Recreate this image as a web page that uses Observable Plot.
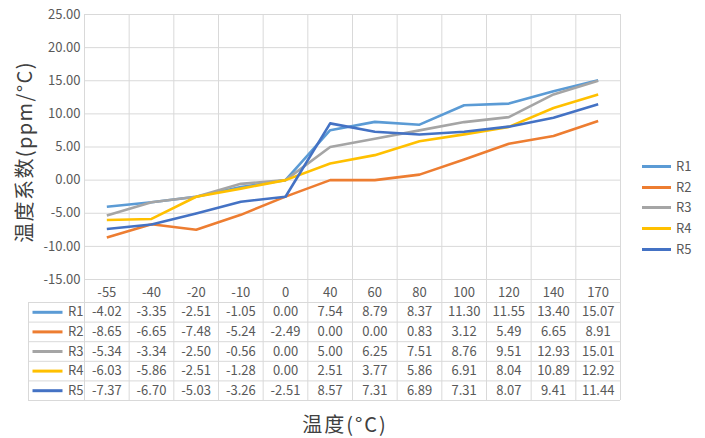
<!DOCTYPE html>
<html>
<head>
<meta charset="utf-8">
<script src="https://cdn.jsdelivr.net/npm/d3@7"></script>
<script src="https://cdn.jsdelivr.net/npm/@observablehq/plot@0.6"></script>
<style>
  html, body { margin: 0; padding: 0; background: #ffffff; }
  #wrap { position: relative; width: 705px; height: 438px; overflow: hidden; font-family: "Noto Sans CJK SC", "Noto Sans", sans-serif; }
  #wrap svg { position: absolute; left: 0; }
  .legend { position: absolute; left: 642px; font-size: 13px; color: #595959; }
  .legend .item { position: absolute; left: 0; width: 60px; height: 16px; line-height: 16px; white-space: nowrap; }
  .legend .sw { position: absolute; left: 0; top: 7px; width: 29px; height: 3px; }
  .legend .lb { position: absolute; left: 34px; top: 0; }
  .title { position: absolute; font-size: 20px; line-height: 22px; color: #404040; white-space: nowrap; }
</style>
</head>
<body>
<div id="wrap"></div>
<script>
const categories = ["-55", "-40", "-20", "-10", "0", "40", "60", "80", "100", "120", "140", "170"];
const seriesNames = ["R1", "R2", "R3", "R4", "R5"];
const R1 = [-4.02, -3.35, -2.51, -1.05, 0.00, 7.54, 8.79, 8.37, 11.30, 11.55, 13.40, 15.07];
const R2 = [-8.65, -6.65, -7.48, -5.24, -2.49, 0.00, 0.00, 0.83, 3.12, 5.49, 6.65, 8.91];
const R3 = [-5.34, -3.34, -2.50, -0.56, 0.00, 5.00, 6.25, 7.51, 8.76, 9.51, 12.93, 15.01];
const R4 = [-6.03, -5.86, -2.51, -1.28, 0.00, 2.51, 3.77, 5.86, 6.91, 8.04, 10.89, 12.92];
const R5 = [-7.37, -6.70, -5.03, -3.26, -2.51, 8.57, 7.31, 6.89, 7.31, 8.07, 9.41, 11.44];
const yTicks = [-15, -10, -5, 0, 5, 10, 15, 20, 25];
const colors = ["#5b9bd5", "#ed7d31", "#a5a5a5", "#ffc000", "#4472c4"];
const yTitle = "温度系数(ppm/°C)";
const xTitle = "温度(°C)";

const seriesValues = [R1, R2, R3, R4, R5];
const rows = [];
seriesValues.forEach((vals, s) => vals.forEach((v, i) => rows.push({series: seriesNames[s], row: s, i, value: v})));
const idx = categories.map((_, i) => i);
const colEdges = d3.range(-0.5, categories.length, 1);
const rowEdges = d3.range(-0.5, seriesNames.length, 1);
const font = "'Noto Sans CJK SC', 'Noto Sans', sans-serif";
const grid = "#d9d9d9";
const textColor = "#595959";

const wrap = document.getElementById("wrap");

const chart = Plot.plot({
  width: 705,
  height: 302,
  marginTop: 14,
  marginBottom: 23,
  marginLeft: 84,
  marginRight: 85,
  style: {fontFamily: font, fontSize: "13px", color: textColor, background: "transparent"},
  x: {type: "linear", domain: [-0.5, categories.length - 0.5], ticks: idx, tickFormat: i => categories[i], tickSize: 0, tickPadding: 8, label: null},
  y: {domain: [-15, 25], ticks: yTicks, tickFormat: d => d.toFixed(2), tickSize: 0, tickPadding: 4, label: null},
  color: {domain: seriesNames, range: colors},
  marks: [
    Plot.ruleY(yTicks, {stroke: grid, strokeWidth: 1, strokeOpacity: 1}),
    Plot.ruleX(colEdges, {stroke: grid, strokeWidth: 1, strokeOpacity: 1, insetBottom: -23}),
    Plot.line(rows, {x: "i", y: "value", z: "series", stroke: "series", strokeWidth: 2.6, strokeLinejoin: "round", strokeLinecap: "butt"})
  ]
});
chart.style.top = "0px";
wrap.appendChild(chart);

const lineSymbol = {draw(context) { context.rect(-15, -1.5, 30, 3); }};

const table = Plot.plot({
  width: 705,
  height: 100,
  marginTop: 1,
  marginBottom: 1,
  marginLeft: 84,
  marginRight: 85,
  style: {fontFamily: font, fontSize: "13px", color: textColor, background: "transparent"},
  x: {type: "linear", domain: [-0.5, categories.length - 0.5], axis: null},
  y: {type: "linear", domain: [-0.5, seriesNames.length - 0.5], reverse: true, axis: null},
  color: {domain: seriesNames, range: colors},
  marks: [
    Plot.ruleY(rowEdges, {stroke: grid, strokeWidth: 1, insetLeft: -56}),
    Plot.ruleX(colEdges, {stroke: grid, strokeWidth: 1}),
    Plot.ruleX([colEdges[0]], {stroke: grid, strokeWidth: 1, dx: -56}),
    Plot.text(rows, {x: "i", y: "row", text: d => d.value.toFixed(2), fill: textColor, fontSize: 13}),
    Plot.text(seriesNames, {x: () => colEdges[0], y: (d, i) => i, text: d => d, textAnchor: "end", dx: -1, fill: textColor, fontSize: 13}),
    Plot.dot(seriesNames, {x: () => colEdges[0], y: (d, i) => i, dx: -37, symbol: lineSymbol, fill: d => d, stroke: null, r: 3})
  ]
});
table.style.top = "301px";
wrap.appendChild(table);

// Right-hand legend
const legend = document.createElement("div");
legend.className = "legend";
legend.style.top = "158px";
seriesNames.forEach((name, k) => {
  const item = document.createElement("div");
  item.className = "item";
  item.style.top = (k * 20.7) + "px";
  const sw = document.createElement("span");
  sw.className = "sw";
  sw.style.background = colors[k];
  const lb = document.createElement("span");
  lb.className = "lb";
  lb.textContent = name;
  item.appendChild(sw);
  item.appendChild(lb);
  legend.appendChild(item);
});
wrap.appendChild(legend);

// Axis titles
const xt = document.createElement("div");
xt.className = "title";
xt.textContent = xTitle;
xt.style.letterSpacing = "2px";
xt.style.left = "345px";
xt.style.top = "424px";
xt.style.transform = "translate(-50%, -50%)";
wrap.appendChild(xt);

const yt = document.createElement("div");
yt.className = "title";
yt.textContent = yTitle;
yt.style.letterSpacing = "1.4px";
yt.style.left = "24px";
yt.style.top = "152px";
yt.style.transform = "translate(-50%, -50%) rotate(-90deg)";
wrap.appendChild(yt);
</script>
</body>
</html>
